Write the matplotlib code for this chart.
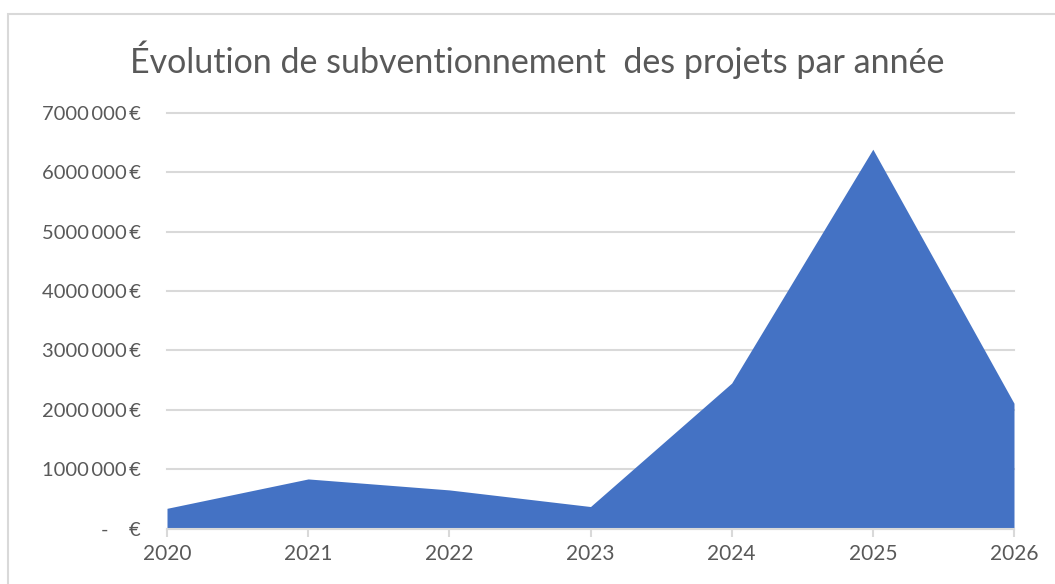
import matplotlib
matplotlib.use('Agg')
import matplotlib.pyplot as plt
from matplotlib.patches import Rectangle
from matplotlib.ticker import FuncFormatter

# data
annees = [2020, 2021, 2022, 2023, 2024, 2025, 2026]
montants = [340000, 835000, 650000, 370000, 2450000, 6390000, 2110000]
yticks = [0, 1000000, 2000000, 3000000, 4000000, 5000000, 6000000, 7000000]
titre = 'Évolution de subventionnement  des projets par année'

plt.rcParams['font.family'] = ['Lato', 'DejaVu Sans']
gris = '#595959'
grille = '#d9d9d9'

fig = plt.figure(figsize=(10.55, 5.84), dpi=100)
# chart frame (Excel style), cut on the right and bottom
fig.patches.append(Rectangle((8 / 1055, -0.1), 1.2, (584 - 14) / 584 + 0.1,
                             transform=fig.transFigure, fill=False,
                             edgecolor=grille, linewidth=1.5))

ax = fig.add_axes([167 / 1055, (584 - 528.5) / 584, 847 / 1055, 415.5 / 584])
ax.fill_between(annees, montants, color='#4472C4', linewidth=0, zorder=2)

ax.set_xlim(annees[0], annees[-1])
ax.set_ylim(0, 7000000)
ax.set_xticks(annees)
ax.set_yticks(yticks)

def fmt_euro(v, pos):
    if v == 0:
        return '-    €'
    return '%d000\u2009000\u2009€' % int(round(v / 1e6))

ax.yaxis.set_major_formatter(FuncFormatter(fmt_euro))
ax.yaxis.grid(True, color=grille, linewidth=1.5, zorder=1)
for line in ax.get_ygridlines():
    line.set_clip_on(False)
ax.set_axisbelow(True)

for s in ['top', 'left', 'right']:
    ax.spines[s].set_visible(False)
ax.spines['bottom'].set_color(grille)
ax.spines['bottom'].set_linewidth(1.5)
ax.spines['bottom'].set_zorder(3)

ax.tick_params(axis='y', length=0, pad=19, labelsize=14.5, labelcolor=gris)
ax.tick_params(axis='x', length=6, width=1.5, color=grille, pad=5,
               labelsize=15, labelcolor=gris)

fig.text(537 / 1055, (584 - 60) / 584, titre, ha='center', va='center',
         fontsize=24.5, color=gris)

fig.savefig('out.png', dpi=100)
